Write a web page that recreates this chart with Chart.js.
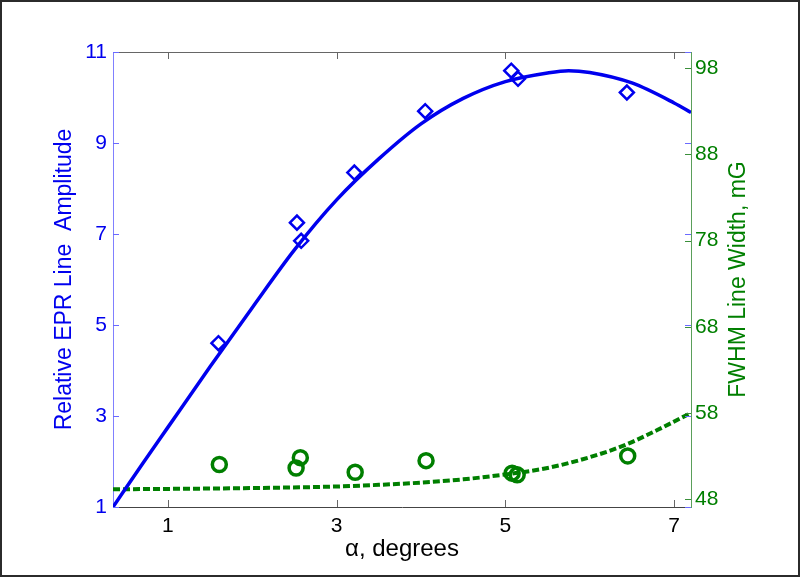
<!DOCTYPE html>
<html>
<head>
<meta charset="utf-8">
<script src="https://cdn.jsdelivr.net/npm/chart.js@4.4.0/dist/chart.umd.min.js"></script>
<style>
  html, body { margin: 0; padding: 0; background: #fff; }
  canvas { display: block; }
</style>
</head>
<body>
<canvas id="chart" width="800" height="577"></canvas>
<script>
const BLUE = "#0000ee";
const GREEN = "#007f00";

const ampAngle = [1.6, 2.53, 2.58, 3.21, 4.05, 5.07, 5.15, 6.44];
const ampValue = [4.6, 7.25, 6.85, 8.35, 9.7, 10.59, 10.41, 10.11];
const widthAngle = [1.61, 2.52, 2.57, 3.22, 4.06, 5.08, 5.14, 6.45];
const widthValue = [52.0, 51.6, 52.8, 51.1, 52.45, 51.0, 50.8, 53.0];

// fitted curves, sampled from the plot
const ampFitAngle = [0.35, 0.7, 1.0, 1.5, 2.0, 2.5, 3.0, 3.5, 4.0, 4.5, 5.0, 5.5, 5.75, 6.0, 6.5, 7.0, 7.2];
const ampFitValue = [1.0, 1.95, 2.75, 4.08, 5.38, 6.65, 7.75, 8.65, 9.42, 9.98, 10.35, 10.54, 10.59, 10.55, 10.32, 9.88, 9.67];
const widthFitAngle = [0.35, 1.0, 2.0, 3.0, 3.5, 4.0, 4.5, 5.0, 5.5, 6.0, 6.4, 6.8, 7.2];
const widthFitValue = [49.13, 49.17, 49.27, 49.45, 49.64, 49.9, 50.28, 50.85, 51.6, 52.85, 54.2, 56.0, 58.0];

const xTicks = [1, 3, 5, 7];
const ampTicks = [1, 3, 5, 7, 9, 11];
const widthTicks = [48, 58, 68, 78, 88, 98];

const pts = (xs, ys) => xs.map((x, i) => ({ x, y: ys[i] }));
const setTicks = (list) => (scale) => { scale.ticks = list.map((v) => ({ value: v })); };

Chart.defaults.font.family = "'Liberation Sans', Arial, sans-serif";

// inward tick marks, top edge, outer frame and the right-hand title
const framePlugin = {
  id: "frame",
  beforeDraw(chart) {
    const { ctx, width, height } = chart;
    ctx.save();
    ctx.fillStyle = "#fff";
    ctx.fillRect(0, 0, width, height);
    ctx.restore();
  },
  afterDraw(chart) {
    const { ctx, chartArea: a, scales, width, height } = chart;
    const line = (x1, y1, x2, y2) => {
      ctx.beginPath();
      ctx.moveTo(x1, y1);
      ctx.lineTo(x2, y2);
      ctx.stroke();
    };
    ctx.save();
    ctx.lineWidth = 1;
    ctx.strokeStyle = "#666";
    line(a.left, a.top + 0.5, a.right, a.top + 0.5);
    xTicks.forEach((v) => {
      const px = Math.round(scales.x.getPixelForValue(v)) + 0.5;
      line(px, a.bottom, px, a.bottom - 7);
      line(px, a.top, px, a.top + 7);
    });
    ctx.strokeStyle = "#6a6aff";
    ampTicks.forEach((v) => {
      const py = Math.round(scales.y.getPixelForValue(v)) + 0.5;
      line(a.left, py, a.left + 6, py);
      line(a.right, py, a.right - 6, py);
    });
    ctx.strokeStyle = "#3a8f3a";
    widthTicks.forEach((v) => {
      const py = Math.round(scales.y2.getPixelForValue(v)) + 0.5;
      line(a.right, py, a.right - 6, py);
    });

    ctx.fillStyle = GREEN;
    ctx.font = "23px 'Liberation Sans', Arial, sans-serif";
    ctx.textAlign = "center";
    ctx.textBaseline = "middle";
    ctx.translate(a.right + 48, (a.top + a.bottom) / 2);
    ctx.rotate(-Math.PI / 2);
    ctx.fillText("FWHM Line Width, mG", 0, 0);
    ctx.restore();

    ctx.save();
    ctx.strokeStyle = "#2b2b2b";
    ctx.lineWidth = 2;
    ctx.strokeRect(1, 1, width - 2, height - 2);
    ctx.restore();
  },
};

new Chart(document.getElementById("chart"), {
  type: "scatter",
  data: {
    datasets: [
      {
        label: "Amplitude fit",
        data: pts(ampFitAngle, ampFitValue),
        showLine: true,
        borderColor: BLUE,
        borderWidth: 3.5,
        pointRadius: 0,
        cubicInterpolationMode: "monotone",
        yAxisID: "y",
      },
      {
        label: "Amplitude",
        data: pts(ampAngle, ampValue),
        pointStyle: "rectRot",
        pointRadius: 7,
        borderWidth: 2.5,
        borderColor: BLUE,
        backgroundColor: "rgba(0,0,0,0)",
        yAxisID: "y",
      },
      {
        label: "Width fit",
        data: pts(widthFitAngle, widthFitValue),
        showLine: true,
        borderColor: GREEN,
        borderWidth: 4,
        borderDash: [7, 3],
        pointRadius: 0,
        cubicInterpolationMode: "monotone",
        yAxisID: "y2",
      },
      {
        label: "Width",
        data: pts(widthAngle, widthValue),
        pointStyle: "circle",
        pointRadius: 7,
        borderWidth: 3.5,
        borderColor: GREEN,
        backgroundColor: "rgba(0,0,0,0)",
        yAxisID: "y2",
      },
    ],
  },
  options: {
    responsive: false,
    animation: false,
    layout: { padding: { top: 52, left: 0, right: 0, bottom: 0 } },
    plugins: { legend: { display: false }, tooltip: { enabled: false } },
    scales: {
      x: {
        type: "linear",
        position: "bottom",
        min: 0.35,
        max: 7.2,
        afterBuildTicks: setTicks(xTicks),
        afterFit: (s) => { s.height = 70; },
        grid: { drawOnChartArea: false, drawTicks: false },
        border: { color: "#444" },
        ticks: { color: "#000", font: { size: 21 }, padding: 7, maxRotation: 0, autoSkip: false },
        title: {
          display: true,
          text: "α, degrees",
          color: "#000",
          font: { size: 24 },
          padding: { top: 0, bottom: 13 },
        },
      },
      y: {
        type: "linear",
        position: "left",
        min: 1,
        max: 11,
        afterBuildTicks: setTicks(ampTicks),
        afterFit: (s) => { s.width = 113; },
        grid: { drawOnChartArea: false, drawTicks: false },
        border: { color: "#8080ff" },
        ticks: { color: BLUE, font: { size: 21 }, padding: 6, autoSkip: false },
        title: {
          display: true,
          text: "Relative EPR Line  Amplitude",
          color: BLUE,
          font: { size: 23 },
          padding: { top: 51, bottom: 0 },
        },
      },
      y2: {
        type: "linear",
        position: "right",
        min: 47.07,
        max: 99.89,
        afterBuildTicks: setTicks(widthTicks),
        afterFit: (s) => { s.width = 109; },
        grid: { drawOnChartArea: false, drawTicks: false },
        border: { color: "#5a9f5a" },
        ticks: { color: GREEN, font: { size: 21 }, padding: 4, autoSkip: false },
      },
    },
  },
  plugins: [framePlugin],
});
</script>
</body>
</html>
